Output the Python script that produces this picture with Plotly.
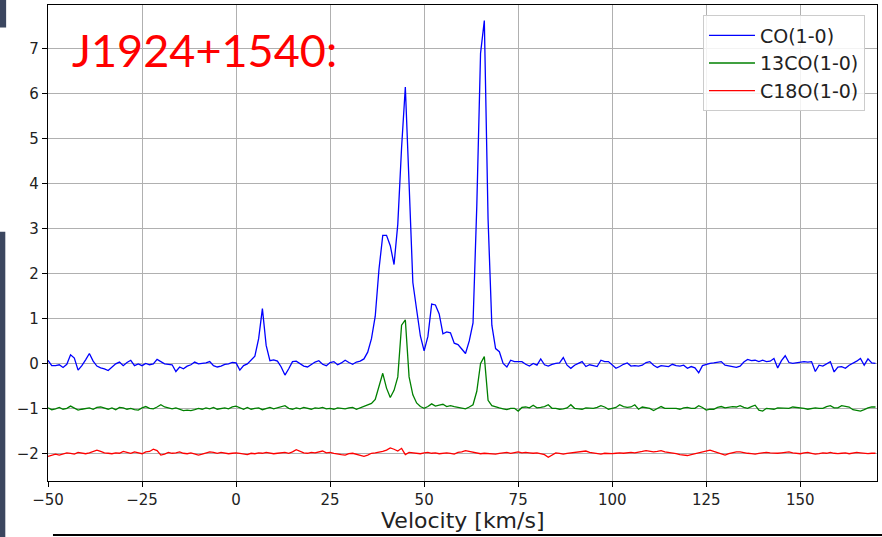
import plotly.graph_objects as go

# Channel velocities (km/s)
velocity = list(range(-50, 171))

series_names = ["CO(1-0)", "13CO(1-0)", "C18O(1-0)"]

co_10 = [
    0.07, -0.05, -0.05, -0.03, -0.09, -0.02, 0.19, 0.12, -0.15, -0.05,   # -50
    0.08, 0.22, 0.05, -0.06, -0.10, -0.12, -0.16, -0.08, -0.01, 0.03,    # -40
    -0.05, 0.02, 0.07, -0.05, -0.01, -0.05, 0.00, -0.03, -0.01, 0.09,    # -30
    0.04, -0.01, -0.02, -0.03, -0.18, -0.08, -0.12, -0.06, -0.03, 0.03,  # -20
    -0.01, 0.00, 0.01, 0.04, -0.05, -0.08, -0.06, -0.02, -0.01, 0.02,    # -10
    0.01, -0.15, -0.05, -0.01, 0.08, 0.16, 0.55, 1.22, 0.40, 0.06,       # 0
    0.08, 0.05, -0.08, -0.26, -0.12, 0.04, 0.05, 0.00, -0.06, -0.08,     # 10
    -0.02, 0.03, 0.06, -0.02, -0.05, 0.02, 0.04, -0.03, 0.01, 0.07,      # 20
    0.02, -0.02, 0.03, 0.05, 0.10, 0.25, 0.55, 1.05, 2.10, 2.85,         # 30
    2.85, 2.62, 2.20, 3.10, 4.80, 6.15, 4.00, 1.80, 1.20, 0.61,          # 40
    0.28, 0.60, 1.32, 1.30, 1.10, 0.66, 0.70, 0.68, 0.45, 0.42,          # 50
    0.32, 0.22, 0.50, 0.90, 3.50, 6.90, 7.63, 3.20, 0.85, 0.33,          # 60
    0.26, 0.00, -0.08, 0.07, 0.04, 0.04, 0.04, -0.02, -0.06, 0.00,       # 70
    -0.04, 0.10, -0.03, -0.06, -0.02, 0.00, 0.01, 0.13, -0.04, -0.11,    # 80
    -0.04, 0.00, 0.04, -0.07, -0.03, -0.05, -0.07, 0.07, 0.04, 0.04,     # 90
    -0.04, -0.11, -0.07, -0.02, 0.01, -0.06, -0.05, -0.06, -0.04, 0.02,  # 100
    0.04, -0.04, -0.09, -0.05, -0.06, -0.07, -0.02, -0.05, -0.06, -0.04, # 110
    -0.11, -0.07, -0.10, -0.21, -0.05, -0.02, 0.00, 0.01, 0.03, 0.04,    # 120
    -0.04, -0.06, -0.08, -0.09, -0.06, 0.03, 0.09, 0.06, 0.07, 0.04,     # 130
    0.07, 0.04, 0.05, 0.11, -0.10, 0.06, 0.17, 0.02, 0.00, 0.01,         # 140
    0.02, 0.04, 0.03, 0.04, -0.18, -0.04, -0.06, 0.00, 0.04, -0.19,      # 150
    -0.08, -0.07, -0.11, -0.04, 0.00, 0.05, 0.11, -0.04, 0.10, 0.01,     # 160
    0.00,                                                                # 170
]

co13_10 = [
    -0.99, -1.03, -1.01, -0.98, -1.02, -1.00, -0.95, -0.99, -1.04, -1.02,  # -50
    -1.00, -0.99, -1.02, -0.98, -0.97, -1.00, -1.02, -0.99, -1.03, -0.98,  # -40
    -0.99, -1.02, -1.00, -1.03, -1.04, -0.99, -0.96, -1.00, -1.01, -0.97,  # -30
    -0.92, -0.97, -0.99, -1.01, -0.99, -1.02, -1.05, -1.04, -1.05, -1.03,  # -20
    -1.00, -1.02, -0.99, -1.01, -0.98, -1.02, -1.00, -0.99, -1.01, -0.97,  # -10
    -0.95, -0.99, -1.02, -0.98, -1.02, -1.00, -0.99, -1.03, -1.00, -0.98,  # 0
    -1.01, -0.99, -0.97, -0.94, -1.00, -1.02, -0.99, -1.01, -0.98, -1.00,  # 10
    -1.02, -0.99, -1.00, -0.98, -1.01, -1.00, -1.02, -0.99, -1.00, -1.01,  # 20
    -0.99, -0.98, -1.02, -0.99, -0.95, -0.92, -0.89, -0.80, -0.52, -0.22,  # 30
    -0.55, -0.76, -0.60, -0.30, 0.85, 0.97, -0.30, -0.70, -0.88, -0.96,    # 40
    -1.00, -0.96, -0.90, -0.95, -0.93, -0.91, -0.96, -0.94, -0.96, -0.98,  # 50
    -1.00, -1.01, -0.97, -0.92, -0.62, 0.00, 0.15, -0.82, -0.94, -0.97,    # 60
    -0.99, -1.01, -1.03, -1.00, -1.00, -1.06, -0.98, -0.97, -0.99, -0.93,  # 70
    -0.99, -0.98, -0.96, -0.92, -1.00, -1.00, -1.02, -1.01, -0.99, -0.92,  # 80
    -1.00, -1.01, -1.02, -0.99, -1.00, -1.00, -0.98, -0.94, -0.97, -1.02,  # 90
    -1.00, -0.98, -0.92, -0.96, -0.98, -0.97, -0.92, -1.02, -0.97, -0.99,  # 100
    -1.00, -1.05, -1.00, -0.96, -1.00, -1.00, -0.99, -1.00, -1.02, -0.99,  # 110
    -0.98, -1.00, -1.00, -0.94, -0.98, -1.04, -1.02, -1.02, -0.98, -0.96,  # 120
    -0.99, -0.98, -0.96, -0.97, -0.94, -0.98, -1.00, -0.96, -0.93, -1.04,  # 130
    -1.06, -1.00, -1.01, -1.02, -0.99, -0.99, -1.00, -1.00, -0.97, -0.98,  # 140
    -0.98, -1.00, -1.02, -1.01, -0.99, -1.00, -1.00, -0.96, -0.94, -0.99,  # 150
    -0.99, -0.94, -0.96, -0.97, -1.03, -1.05, -1.06, -1.03, -0.99, -0.97,  # 160
    -0.97,                                                                 # 170
]

c18o_10 = [
    -2.07, -2.04, -2.02, -2.04, -2.01, -1.99, -2.00, -2.02, -1.98, -2.00,  # -50
    -2.01, -1.99, -1.96, -1.93, -1.96, -1.99, -2.00, -2.01, -1.99, -2.00,  # -40
    -1.96, -1.98, -2.00, -1.97, -1.99, -2.01, -1.97, -1.96, -1.91, -1.94,  # -30
    -2.04, -2.02, -1.98, -2.00, -1.99, -1.97, -2.00, -2.01, -1.99, -2.02,  # -20
    -2.04, -2.02, -1.99, -1.97, -1.98, -2.00, -1.98, -1.99, -2.01, -2.00,  # -10
    -1.99, -2.00, -2.02, -2.03, -2.00, -2.01, -1.99, -2.00, -1.98, -1.99,  # 0
    -2.01, -2.00, -1.99, -1.98, -2.00, -1.97, -1.92, -1.96, -1.99, -2.00,  # 10
    -1.98, -1.99, -1.97, -1.95, -1.99, -1.98, -2.00, -2.02, -2.03, -2.04,  # 20
    -2.01, -2.00, -2.02, -2.05, -2.07, -2.04, -2.00, -1.99, -1.98, -1.96,  # 30
    -1.93, -1.88, -1.91, -1.95, -1.89, -2.03, -1.98, -1.99, -2.00, -2.01,  # 40
    -1.99, -1.98, -2.00, -1.99, -2.01, -2.00, -1.99, -2.00, -2.02, -1.98,  # 50
    -1.97, -1.94, -1.96, -1.98, -1.99, -2.01, -2.00, -2.01, -2.02, -2.02,  # 60
    -2.00, -1.99, -1.98, -2.00, -1.98, -1.97, -1.99, -1.98, -1.99, -2.00,  # 70
    -1.99, -2.01, -2.03, -2.09, -2.03, -1.99, -2.00, -2.02, -2.00, -1.99,  # 80
    -1.98, -1.97, -1.96, -1.95, -1.98, -1.99, -2.00, -2.02, -2.00, -2.01,  # 90
    -2.01, -2.00, -1.99, -2.00, -1.99, -1.98, -1.99, -1.98, -1.96, -1.94,  # 100
    -1.95, -1.97, -1.96, -1.94, -1.97, -1.98, -2.00, -2.01, -2.03, -2.04,  # 110
    -2.05, -2.03, -2.01, -2.00, -1.98, -1.95, -1.93, -1.96, -1.99, -2.02,  # 120
    -2.04, -2.01, -1.99, -1.97, -1.97, -1.99, -2.00, -2.01, -2.02, -2.00,  # 130
    -1.99, -1.98, -1.99, -2.00, -2.00, -1.99, -1.98, -1.97, -1.99, -2.00,  # 140
    -2.01, -1.99, -1.98, -2.00, -2.02, -2.01, -1.99, -2.00, -1.98, -2.00,  # 150
    -2.01, -2.00, -1.99, -2.01, -2.00, -1.98, -1.99, -2.00, -2.01, -2.00,  # 160
    -2.00,                                                                 # 170
]

x_ticks = [-50, -25, 0, 25, 50, 75, 100, 125, 150]
y_ticks = [-2, -1, 0, 1, 2, 3, 4, 5, 6, 7]

title_text = "J1924+1540:"
x_label = "Velocity [km/s]"

colors = ["#0000ff", "#008000", "#ff0000"]


def fmt(v):
    return ("\u2212" + str(abs(v))) if v < 0 else str(v)


fig = go.Figure()
for name, vals, col in zip(series_names, [co_10, co13_10, c18o_10], colors):
    fig.add_trace(go.Scatter(x=velocity, y=vals, mode="lines", name=name,
                             line=dict(color=col, width=1.3)))

axis_common = dict(showline=True, linecolor="black", linewidth=1.2, mirror=True,
                   showgrid=True, gridcolor="#b0b0b0", gridwidth=1,
                   ticks="outside", ticklen=5, tickcolor="black",
                   tickfont=dict(family="DejaVu Sans", size=15, color="#222"),
                   zeroline=False)

fig.update_xaxes(range=[-50, 170.4], tickvals=x_ticks,
                 ticktext=[fmt(v) for v in x_ticks], **axis_common)
fig.update_yaxes(range=[-2.617, 7.976], tickvals=y_ticks,
                 ticktext=[fmt(v) for v in y_ticks], **axis_common)

fig.update_layout(
    width=882, height=537,
    margin=dict(l=48, r=5, t=5, b=56),
    paper_bgcolor="white", plot_bgcolor="white",
    font=dict(family="DejaVu Sans"),
    showlegend=True,
    legend=dict(x=0.9855, y=0.978, xanchor="right", yanchor="top",
                itemwidth=46,
                bgcolor="rgba(255,255,255,0.85)", bordercolor="#cccccc", borderwidth=1,
                font=dict(family="DejaVu Sans", size=19, color="#222")),
    annotations=[
        dict(text=title_text, xref="paper", yref="paper", x=0.026, y=0.906,
             xanchor="left", yanchor="middle", showarrow=False,
             font=dict(family="Lato", size=45, color="#ff0000")),
        dict(text=x_label, xref="paper", yref="paper", x=0.5, y=-0.082,
             xanchor="center", yanchor="middle", showarrow=False,
             font=dict(family="DejaVu Sans", size=22, color="#222")),
    ],
    shapes=[
        dict(type="rect", xref="paper", yref="paper", x0=-0.058, x1=-0.0505,
             y0=0.9527, y1=1.02, fillcolor="#3b465f", line=dict(width=0)),
        dict(type="rect", xref="paper", yref="paper", x0=-0.058, x1=-0.0515,
             y0=-0.13, y1=0.5237, fillcolor="#3b465f", line=dict(width=0)),
        dict(type="line", xref="paper", yref="paper", x0=0.006, x1=1.01,
             y0=-0.1136, y1=-0.1136, line=dict(color="black", width=2)),
    ],
)

fig.write_html("out.html")
